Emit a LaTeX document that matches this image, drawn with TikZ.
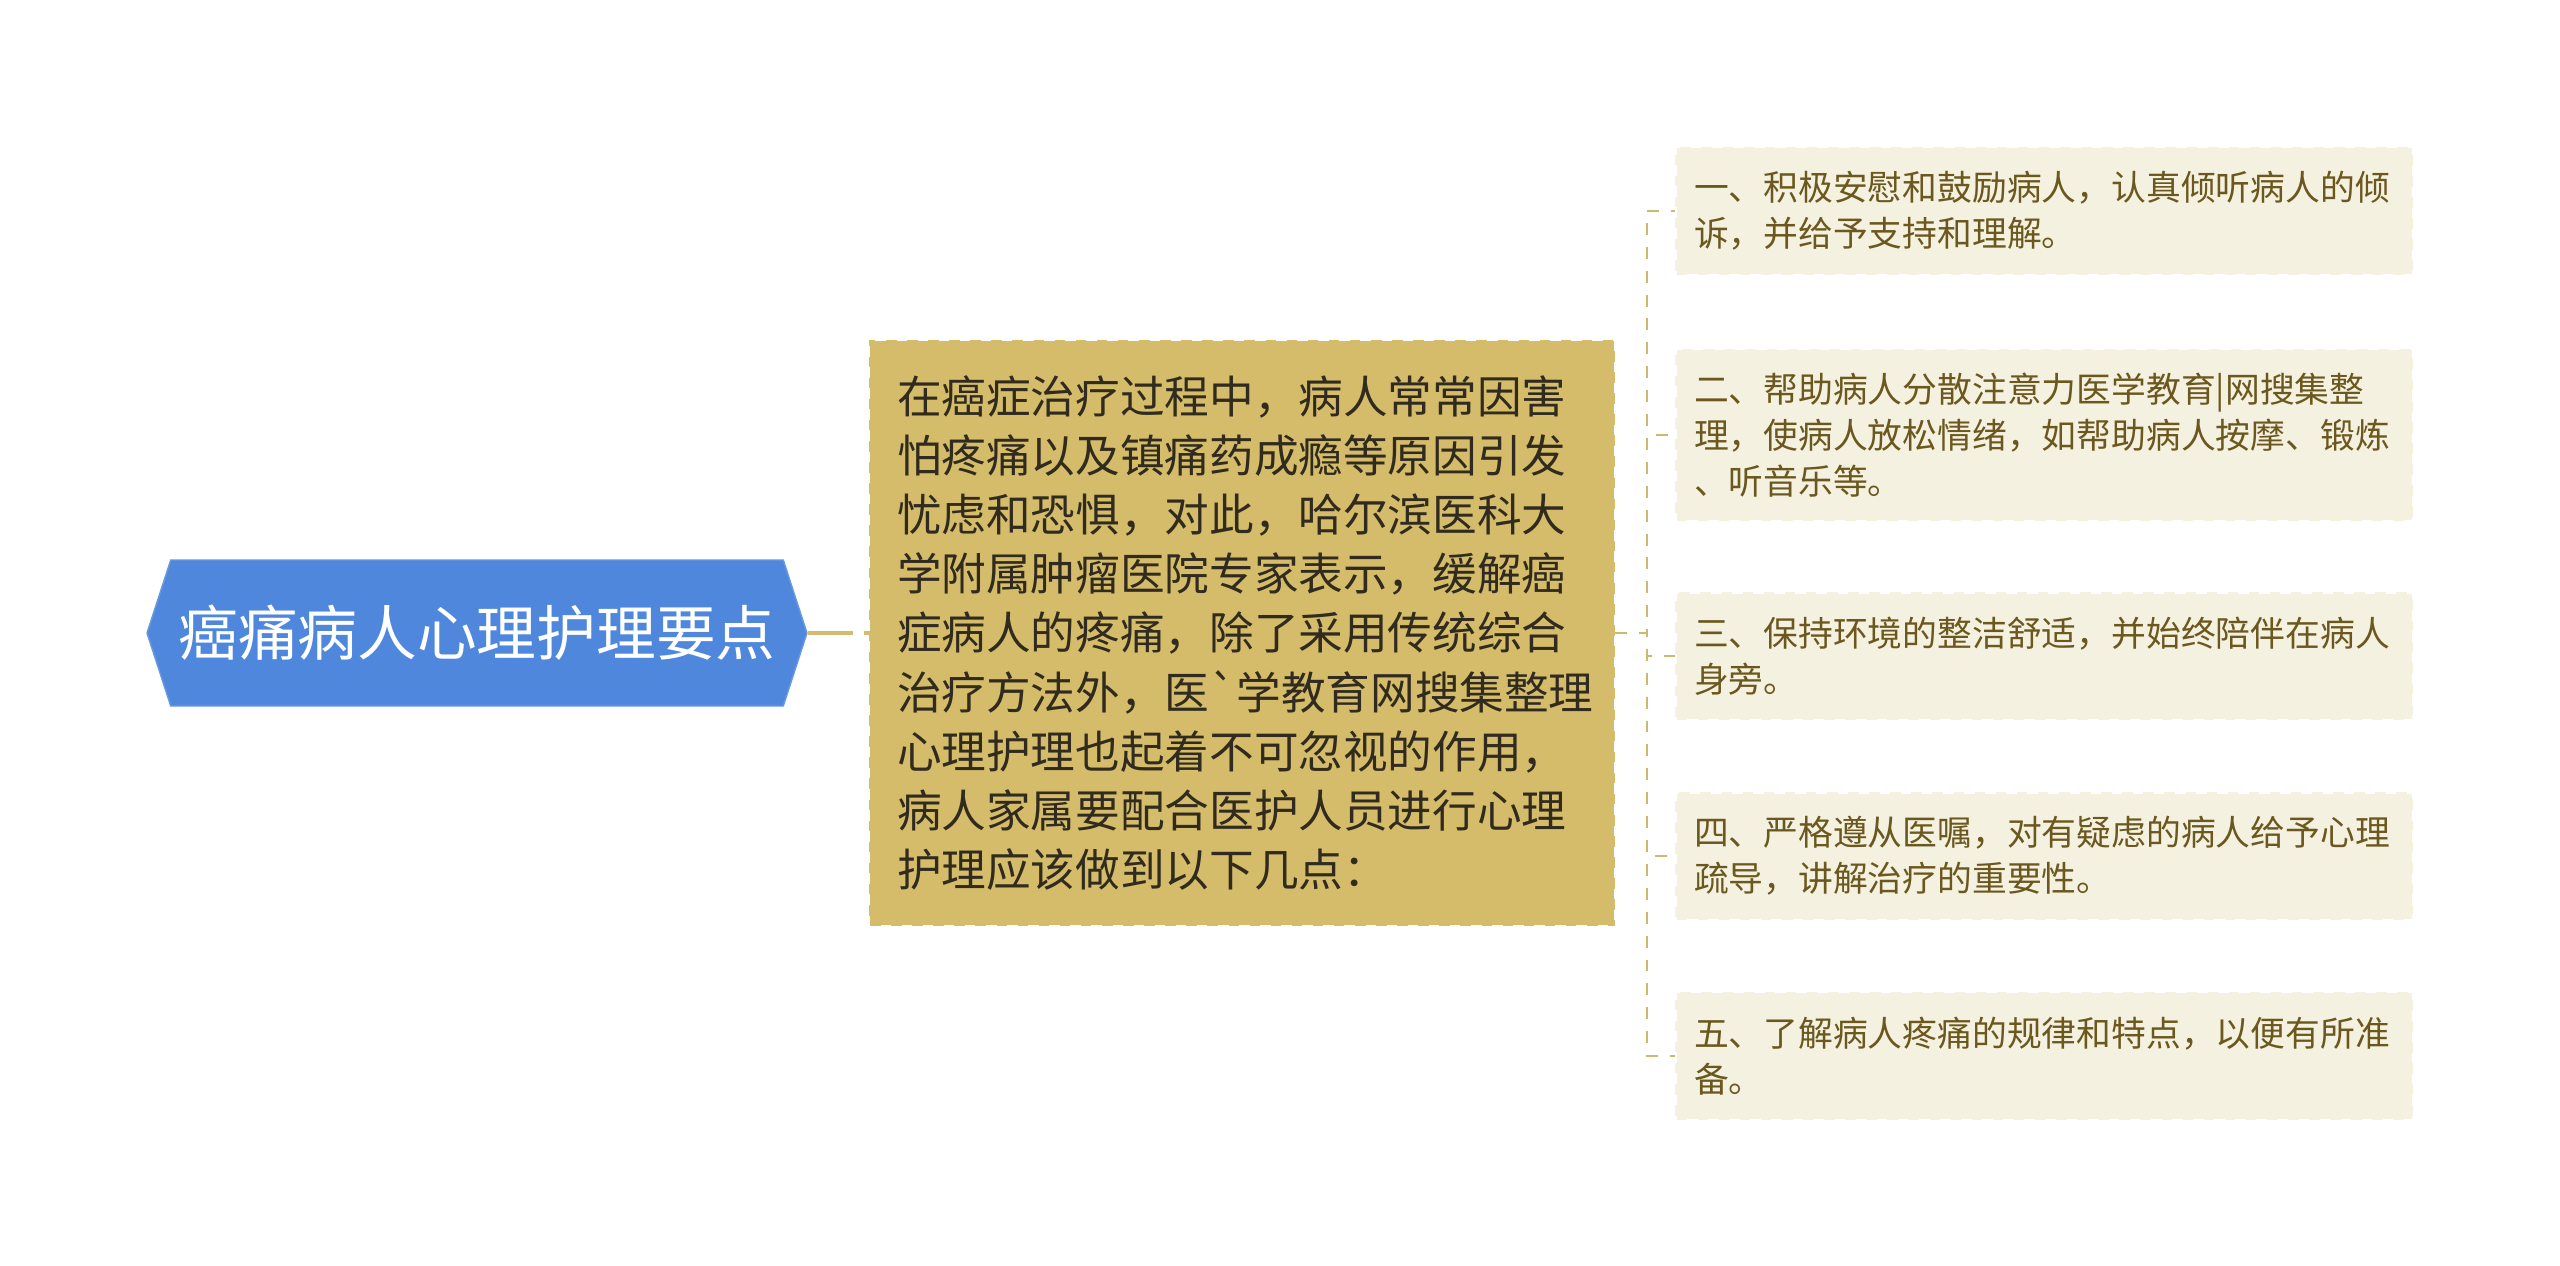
\documentclass[tikz,border=0pt]{standalone}
\usepackage{fontspec}
\newfontfamily\cjkfont{Noto Sans CJK SC}
\usetikzlibrary{shapes.symbols}

\definecolor{rootblue}{RGB}{79,135,220}
\definecolor{tanfill}{RGB}{212,188,106}
\definecolor{creamfill}{RGB}{245,241,225}
\definecolor{olivetext}{RGB}{107,88,30}
\definecolor{darktext}{RGB}{48,43,30}
\definecolor{linktan}{RGB}{205,185,110}

\begin{document}
\begin{tikzpicture} [
                x=0.1mm, y=-0.1mm,
                root/.style={signal, signal to=west and east, signal pointer angle=144,
                    fill=rootblue, draw=rootblue!85!white, text=white, inner sep=0pt,
                    minimum width=66mm, minimum height=14.6mm,
                    font=\cjkfont\fontsize{17pt}{20pt}\selectfont},
                topic/.style={rectangle, fill=tanfill, draw=tanfill, dashed, line width=0.6pt,
                    text=darktext, text width=69mm, align=left, inner xsep=2.7mm,
                    minimum height=58.4mm,
                    font=\cjkfont\fontsize{12.7pt}{16.8pt}\selectfont},
                point/.style={rectangle, fill=creamfill, draw=creamfill, dashed, line width=0.6pt,
                    text=olivetext, text width=70mm, align=left, inner xsep=1.75mm,
                    font=\cjkfont\fontsize{9.9pt}{13.1pt}\selectfont},
                trunk/.style={draw=tanfill, line width=0.9pt, dash pattern=on 12.8pt off 3.1pt},
                branch/.style={draw=linktan, line width=0.6pt, dash pattern=on 3.4pt off 3.4pt},
            ]
            \path[fill=white, use as bounding box] (0,0) rectangle (2560,1265);
            \node[root] (root) at (477,633) {癌痛病人心理护理要点};
            \node[topic] (mid) at (1242,633) {在癌症治疗过程中，病人常常因害\\
                怕疼痛以及镇痛药成瘾等原因引发\\
                忧虑和恐惧，对此，哈尔滨医科大\\
                学附属肿瘤医院专家表示，缓解癌\\
                症病人的疼痛，除了采用传统综合\\
                治疗方法外，医`学教育网搜集整理\\
                心理护理也起着不可忽视的作用，\\
                病人家属要配合医护人员进行心理\\
                护理应该做到以下几点：};
            \foreach \ypos/\boxh/\name/\txt in {
                    211/12.6mm/p1/{一、积极安慰和鼓励病人，认真倾听病人的倾\\诉，并给予支持和理解。},
                    435/17mm/p2/{二、帮助病人分散注意力医学教育|网搜集整\\理，使病人放松情绪，如帮助病人按摩、锻炼\\、听音乐等。},
                    656/12.5mm/p3/{三、保持环境的整洁舒适，并始终陪伴在病人\\身旁。},
                    856/12.5mm/p4/{四、严格遵从医嘱，对有疑虑的病人给予心理\\疏导，讲解治疗的重要性。},
                    1056/12.6mm/p5/{五、了解病人疼痛的规律和特点，以便有所准\\备。}}
                \node[point, minimum height=\boxh] (\name) at (2044,\ypos) {\txt};
            \path[trunk] (root.east) -- (mid.west);
            \foreach \dest in {p1,p2,p3,p4,p5}
                \path[branch] (mid.east) -- ++(32,0) |- (\dest.west);
        \end{tikzpicture}
\end{document}
